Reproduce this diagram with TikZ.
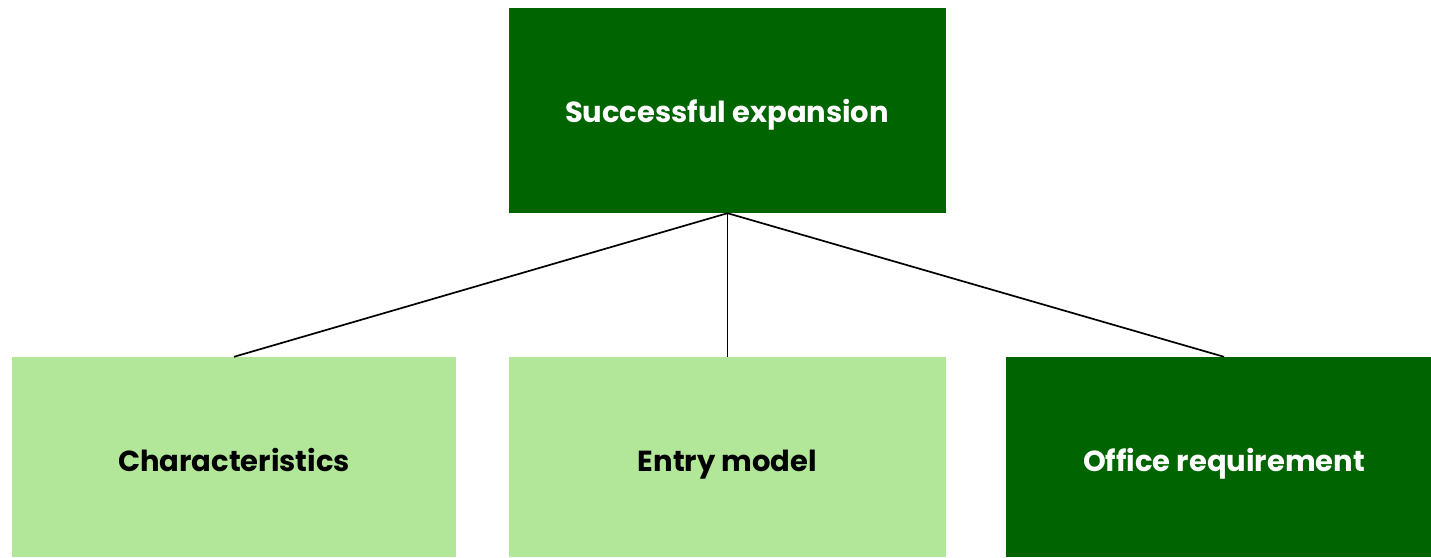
\documentclass[tikz,border=0pt]{standalone}
\usepackage{fontspec}
\setmainfont{Poppins}
\definecolor{dkgreen}{HTML}{006400}
\definecolor{ltgreen}{HTML}{B2E799}
\begin{document}
\begin{tikzpicture}[x=1pt,y=-1pt,
  box/.style={minimum width=#1pt, minimum height=200pt, inner sep=0pt},
  lbl/.style={anchor=base, inner sep=0pt, font=\fontsize{29}{34}\selectfont\bfseries},
  dark/.style={fill=dkgreen},
  light/.style={fill=ltgreen},
  conn/.style={draw=black, line width=1.7pt}]
\useasboundingbox (0,0) rectangle (1431,557);
\clip (0,0) rectangle (1431,557);
\node[box=437, dark, minimum height=205pt] (top) at (727.5,110.5) {};
\node[box=444, light] (c) at (234,457) {};
\node[box=437, light] (e) at (727.5,457) {};
\node[box=436, dark] (o) at (1224,457) {};
\node[lbl, text=white] (toptxt) at (727,122) {Successful expansion};
\node[lbl, text=black] (ctxt) at (234,471) {Characteristics};
\node[lbl, text=black] (etxt) at (727.5,471) {Entry model};
\node[lbl, text=white] (otxt) at (1224,471) {Office requirement};
\draw[conn] (top.south) -- (c.north);
\draw[conn] (top.south) -- (e.north);
\draw[conn] (top.south) -- (o.north);
\end{tikzpicture}
\end{document}
